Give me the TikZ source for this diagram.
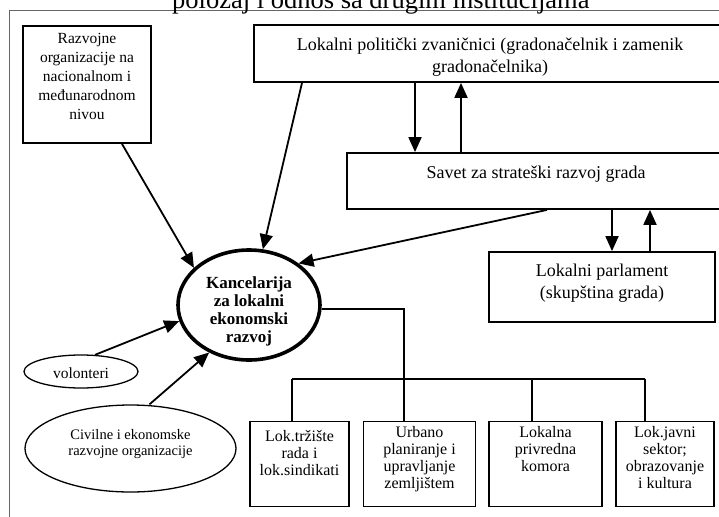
\documentclass[tikz,border=0pt]{standalone}
\usepackage{fontspec}
\setmainfont{Liberation Serif}
\usetikzlibrary{arrows.meta,shapes.geometric,calc}

\tikzset{
  boxframe/.style={draw, line width=1.8pt, inner sep=0pt, anchor=center},
  lbl/.style={align=center, inner sep=0pt, font=\fontsize{15.5}{19}\selectfont},
  biglbl/.style={align=center, inner sep=0pt, font=\fontsize{18}{22}\selectfont},
  smalllbl/.style={align=center, inner sep=0pt, font=\fontsize{16}{17}\selectfont},
  link/.style={line width=1.8pt, -{Triangle[length=15pt,width=13pt]}},
  tree/.style={line width=1.5pt},
}

\begin{document}
\begin{tikzpicture}[x=1pt, y=-1pt]
\useasboundingbox (0,0) rectangle (719,516);

% page frame and heading
\draw[gray!80!black, line width=1pt] (9,530) -- (9,11) -- (730,11);
\node[anchor=base west, inner sep=0pt, font=\fontsize{26.5}{30}\selectfont]
  (title) at (172,8.5) {položaj i odnos sa drugim institucijama};

% outer bodies
\node[boxframe, minimum width=128pt, minimum height=117pt] (raz) at (87,84.5) {};
\node[lbl, anchor=north] (razt) at (87,33) {Razvojne\\organizacije na\\nacionalnom i\\međunarodnom\\nivou};

\node[boxframe, minimum width=472pt, minimum height=57pt] (pol) at (490,53.5) {};
\node[biglbl] (polt) at (490,57) {Lokalni politički zvaničnici (gradonačelnik i zamenik\\gradonačelnika)};

\node[boxframe, minimum width=378pt, minimum height=56pt] (sav) at (536,181) {};
\node[biglbl] (savt) at (536,174) {Savet za strateški razvoj grada};

\node[boxframe, minimum width=226pt, minimum height=70pt] (par) at (602,287) {};
\node[biglbl] (part) at (602,283.5) {Lokalni parlament\\(skupština grada)};

% central office
\node[draw, ellipse, line width=3.6pt, minimum width=142pt, minimum height=110pt, inner sep=0pt]
  (kanc) at (249,305) {};
\node[align=center, inner sep=0pt, font=\fontsize{17}{18}\bfseries\selectfont]
  (kanct) at (249,311) {Kancelarija\\za lokalni\\ekonomski\\razvoj};

% volunteers and civil organisations
\node[draw, ellipse, line width=1.3pt, minimum width=114pt, minimum height=33pt, inner sep=0pt]
  (vol) at (81,371.5) {};
\node[lbl] (volt) at (81,373) {volonteri};

\node[draw, ellipse, line width=1.3pt, minimum width=211pt, minimum height=87pt, inner sep=0pt]
  (civ) at (130.5,448.5) {};
\node[align=center, inner sep=0pt, font=\fontsize{14.5}{15.5}\selectfont]
  (civt) at (130.5,444) {Civilne i ekonomske\\razvojne organizacije};

% local sectors
\node[boxframe, minimum width=99pt, minimum height=85pt] (b1) at (299.5,464) {};
\node[smalllbl, anchor=north] (b1t) at (299.5,430) {Lok.tržište\\rada i\\lok.sindikati};
\node[boxframe, minimum width=112pt, minimum height=85pt] (b2) at (419.5,464) {};
\node[smalllbl, anchor=north] (b2t) at (419.5,426) {Urbano\\planiranje i\\upravljanje\\zemljištem};
\node[boxframe, minimum width=113pt, minimum height=85pt] (b3) at (545.5,464) {};
\node[smalllbl, anchor=north] (b3t) at (545.5,426) {Lokalna\\privredna\\komora};
\node[boxframe, minimum width=98pt, minimum height=85pt] (b4) at (665,464) {};
\node[smalllbl, anchor=north] (b4t) at (665,426) {Lok.javni\\sektor;\\obrazovanje\\i kultura};

% links into the office
\draw[link] ([xshift=35pt]raz.south) -- (kanc.146);
\draw[link] ([xshift=-188pt]pol.south) -- (kanc.76);
\draw[link] ([xshift=11pt]sav.south) -- (kanc.40);
\draw[link] (vol.50) -- (kanc.193);
\draw[link] ([xshift=19pt]civ.north) -- (kanc.230);

% two-way links between the governing bodies
\draw[link] ([xshift=-75pt]pol.south) -- ([xshift=-75pt]pol.south |- sav.north);
\draw[link] ([xshift=-29pt]pol.south |- sav.north) -- ([xshift=-29pt]pol.south);
\draw[link] ([xshift=76pt]sav.south) -- ([xshift=76pt]sav.south |- par.north);
\draw[link] ([xshift=114pt]sav.south |- par.north) -- ([xshift=114pt]sav.south);

% organisational tree below the office
\coordinate (bend) at (404,309);
\coordinate (bus) at (404,379);
\coordinate (busl) at (292,379);
\coordinate (busm) at (532,379);
\coordinate (busr) at (645,379);
\draw[tree] (kanc.east |- bend) -- (bend) -- (bus);
\draw[tree] (busl) -- (busr);
\draw[tree] (busl) -- (busl |- b1.north);
\draw[tree] (bus) -- (bus |- b2.north);
\draw[tree] (busm) -- (busm |- b3.north);
\draw[tree] (busr) -- (busr |- b4.north);
\end{tikzpicture}
\end{document}
